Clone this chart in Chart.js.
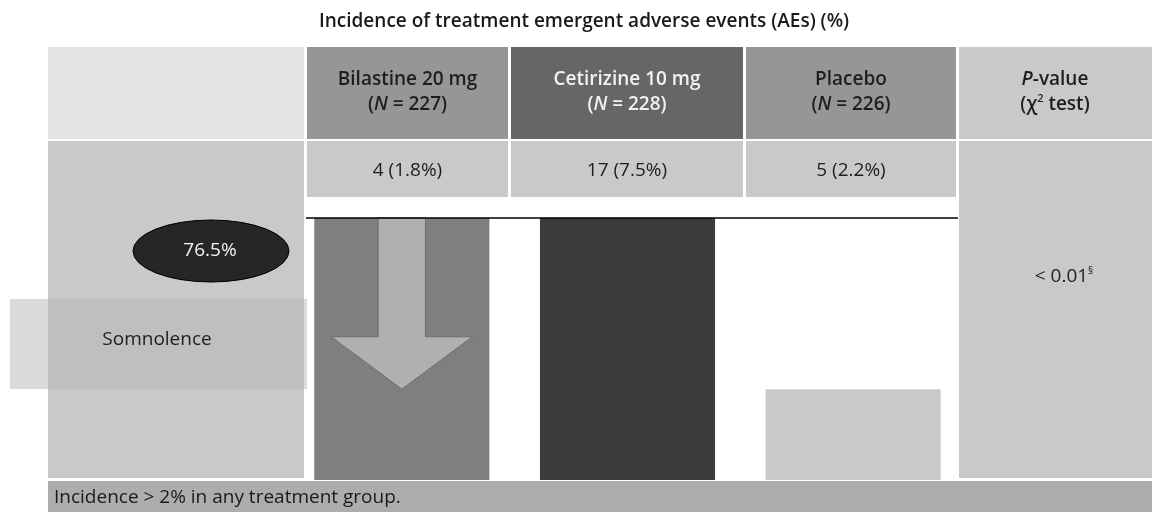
<!DOCTYPE html>
<html>
<head>
<meta charset="utf-8">
<script src="https://cdn.jsdelivr.net/npm/chart.js@4"></script>
<style>
  body { margin: 0; background: #fff; }
  canvas { display: block; }
</style>
</head>
<body>
<canvas id="aeChart" width="1152" height="512"></canvas>
<script>
"use strict";
// values
let groups = ["Bilastine 20 mg", "Cetirizine 10 mg", "Placebo"];
let groupN = [227, 228, 226];
let aeCounts = [4, 17, 5];
let aePercent = [1.8, 7.5, 2.2];
let barHeights = [7.5, 7.5, 2.6];
let arrowLevels = [7.5, 4.1, 2.6]; // shaft top, head base, tip
let reductionLabel = "76.5%";
let eventName = "Somnolence";
let pValue = "< 0.01";
let titleText = "Incidence of treatment emergent adverse events (AEs) (%)";
let footnote = "Incidence > 2% in any treatment group.";

let barColors = ["#7f7f7f", "#3c3c3c", "#c9c9c9"];
let headColors = ["#969696", "#666666", "#969696"];
let headText = ["#1e1e1e", "#f2f2f2", "#1e1e1e"];
let FONT = "'Open Sans', sans-serif";

// column layout of the table
let cols = [[307, 201], [511, 232], [746, 210]];

function box(ctx, x, y, w, h, color) {
  ctx.fillStyle = color;
  ctx.fillRect(x, y, w, h);
}

// parts: [text, font, raise]
function richText(ctx, parts, cx, y, color) {
  let total = 0;
  parts.forEach(function (p) {
    ctx.font = p[1];
    total += ctx.measureText(p[0]).width;
  });
  let x = cx - total / 2;
  ctx.fillStyle = color;
  ctx.textAlign = "left";
  ctx.textBaseline = "middle";
  parts.forEach(function (p) {
    ctx.font = p[1];
    ctx.fillText(p[0], x, y - (p[2] || 0));
    x += ctx.measureText(p[0]).width;
  });
}

let tablePlugin = {
  id: "tablePlugin",
  beforeDraw: function (chart) {
    let ctx = chart.ctx;
    ctx.save();
    box(ctx, 0, 0, chart.width, chart.height, "#ffffff");

    ctx.fillStyle = "#1a1a1a";
    ctx.font = "600 19px " + FONT;
    ctx.textAlign = "center";
    ctx.textBaseline = "middle";
    ctx.fillText(titleText, 584, 22);

    // header row
    box(ctx, 48, 47, 256, 92, "#e3e3e3");
    box(ctx, 959, 47, 193, 92, "#c9c9c9");
    let bold = "600 19px " + FONT;
    let boldIt = "italic 600 19px " + FONT;
    let plain = "19px " + FONT;
    for (let i = 0; i < groups.length; i++) {
      let c = cols[i];
      let cx = c[0] + c[1] / 2;
      box(ctx, c[0], 47, c[1], 92, headColors[i]);
      richText(ctx, [[groups[i], bold]], cx, 80, headText[i]);
      richText(ctx, [["(", bold], ["N", boldIt], [" = " + groupN[i] + ")", bold]], cx, 105, headText[i]);
      box(ctx, c[0], 141, c[1], 56, "#c9c9c9");
      richText(ctx, [[aeCounts[i] + " (" + aePercent[i] + "%)", plain]], cx, 171, "#1e1e1e");
    }
    richText(ctx, [["P", boldIt], ["-value", bold]], 1055, 80, "#1e1e1e");
    richText(ctx, [["(\u03c7", bold], ["2", "600 11px " + FONT, 6], [" test)", bold]], 1055, 105, "#1e1e1e");

    // body cells
    box(ctx, 48, 141, 256, 337, "#c9c9c9");
    box(ctx, 959, 141, 193, 337, "#c9c9c9");
    richText(ctx, [[pValue, plain], ["\u00a7", "10px " + FONT, 6]], 1064, 277, "#1e1e1e");

    // footer
    box(ctx, 48, 481, 1104, 31, "#adadad");
    ctx.fillStyle = "#1a1a1a";
    ctx.font = plain;
    ctx.textAlign = "left";
    ctx.textBaseline = "middle";
    ctx.fillText(footnote, 54, 498);
    ctx.restore();
  },
  afterDatasetsDraw: function (chart) {
    let ctx = chart.ctx;
    let y = chart.scales.y;
    let bar = chart.getDatasetMeta(0).data[0];
    ctx.save();

    // reduction arrow inside the bilastine bar
    let shaft = bar.width * 0.27;
    let head = bar.width * 0.806;
    let yTop = y.getPixelForValue(arrowLevels[0]);
    let yHead = y.getPixelForValue(arrowLevels[1]);
    let yTip = y.getPixelForValue(arrowLevels[2]);
    ctx.beginPath();
    ctx.moveTo(bar.x - shaft / 2, yTop);
    ctx.lineTo(bar.x - shaft / 2, yHead);
    ctx.lineTo(bar.x - head / 2, yHead);
    ctx.lineTo(bar.x, yTip);
    ctx.lineTo(bar.x + head / 2, yHead);
    ctx.lineTo(bar.x + shaft / 2, yHead);
    ctx.lineTo(bar.x + shaft / 2, yTop);
    ctx.closePath();
    ctx.fillStyle = "#b0b0b0";
    ctx.fill();
    ctx.strokeStyle = "#6e6e6e";
    ctx.lineWidth = 1;
    ctx.stroke();

    // top rule
    ctx.beginPath();
    ctx.moveTo(306, 218);
    ctx.lineTo(958, 218);
    ctx.strokeStyle = "#000";
    ctx.lineWidth = 1.5;
    ctx.stroke();

    // ellipse with relative reduction
    ctx.beginPath();
    ctx.ellipse(211, 251, 78, 31, 0, 0, Math.PI * 2);
    ctx.fillStyle = "#262626";
    ctx.fill();
    ctx.strokeStyle = "#000";
    ctx.lineWidth = 1;
    ctx.stroke();
    richText(ctx, [[reductionLabel, "19px " + FONT]], 210, 251, "#f2f2f2");

    // event label box
    box(ctx, 10, 299, 297, 90, "rgba(179,179,179,0.48)");
    richText(ctx, [[eventName, "19px " + FONT]], 157, 340, "#1e1e1e");
    ctx.restore();
  }
};

let myChart = new Chart(document.getElementById("aeChart"), {
  type: "bar",
  data: {
    labels: groups,
    datasets: [
      {
        label: "Somnolence",
        data: barHeights,
        backgroundColor: barColors,
        borderWidth: 0,
        barPercentage: 0.776,
        categoryPercentage: 1,
      },
    ],
  },
  options: {
    responsive: false,
    animation: false,
    devicePixelRatio: 1,
    layout: { padding: { left: 289, right: 186, top: 218, bottom: 32 } },
    plugins: {
      legend: { display: false },
      tooltip: { enabled: false },
      title: { display: false },
    },
    scales: {
      x: { display: false },
      y: { display: false, min: 0, max: 7.5 },
    },
  },
  plugins: [tablePlugin],
});
</script>
</body>
</html>
